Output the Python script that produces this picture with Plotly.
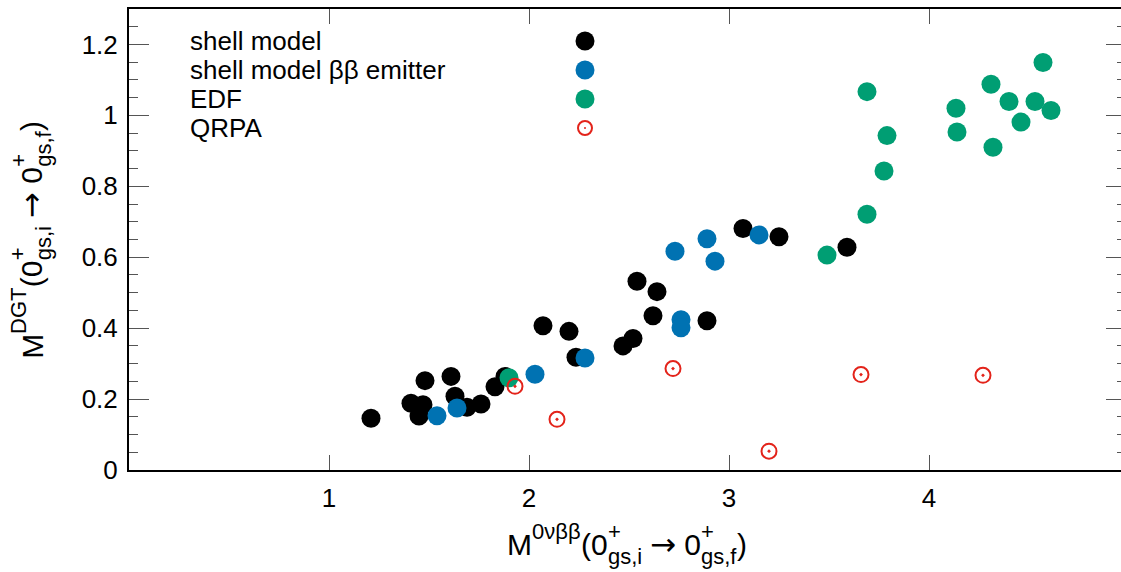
import plotly.graph_objects as go

# ---- data ----
shell_x = [1.21, 1.41, 1.47, 1.45, 1.48, 1.61, 1.63, 1.69, 1.76, 1.83, 1.88, 2.07, 2.20, 2.235,
           2.47, 2.52, 2.62, 2.54, 2.64, 2.89, 3.07, 3.25, 3.59]
shell_y = [0.146, 0.188, 0.184, 0.152, 0.252, 0.264, 0.208, 0.177, 0.186, 0.235, 0.264, 0.407, 0.391, 0.318,
           0.350, 0.371, 0.435, 0.532, 0.503, 0.421, 0.681, 0.658, 0.628]

bb_x = [1.54, 1.64, 2.03, 2.28, 2.76, 2.76, 2.73, 2.89, 2.93, 3.15]
bb_y = [0.153, 0.175, 0.270, 0.316, 0.424, 0.401, 0.617, 0.652, 0.589, 0.663]

edf_x = [1.90, 3.49, 3.69, 3.775, 3.79, 3.69, 4.135, 4.14, 4.31, 4.32, 4.40, 4.46, 4.53, 4.57, 4.61]
edf_y = [0.260, 0.606, 0.721, 0.843, 0.943, 1.067, 1.020, 0.953, 1.088, 0.910, 1.039, 0.981, 1.039, 1.149, 1.014]

qrpa_x = [1.93, 2.14, 2.72, 3.20, 3.66, 4.27]
qrpa_y = [0.236, 0.143, 0.286, 0.053, 0.269, 0.267]

x_ticks = [1, 2, 3, 4]
y_ticks = [0, 0.2, 0.4, 0.6, 0.8, 1.0, 1.2]
y_tick_text = ["0", "0.2", "0.4", "0.6", "0.8", "1", "1.2"]

names = ["shell model", "shell model \u03b2\u03b2 emitter", "EDF", "QRPA"]
colors = ["#000000", "#0072b2", "#009e73", "#e3231a"]

# axis titles as (kind, text) pieces: normal / sup / supsub (stacked) / arrow
x_title = [("n", "M"), ("sup", "0\u03bd\u03b2\u03b2"), ("n", "(0"), ("supsub", ("+", "gs,i")),
           ("n", " "), ("arrow", "\u2192"), ("n", " 0"), ("supsub", ("+", "gs,f")), ("n", ")")]
y_title = [("n", "M"), ("sup", "DGT"), ("n", "(0"), ("supsub", ("+", "gs,i")),
           ("n", " "), ("arrow", "\u2192"), ("n", " 0"), ("supsub", ("+", "gs,f")), ("n", ")")]

FONT = "Liberation Sans, Arial, Helvetica, sans-serif"
ARROW_FONT = "DejaVu Sans"
W, H = 1126, 572             # figure slightly wider than the page: right frame line lies off-screen
L, R, T, B = 129, 0, 9, 102
PW, PH = W - L - R, H - T - B

def px_x(p):                 # page pixel -> plot-area paper coordinate
    return (p - L) / PW

def px_y(p):
    return (T + PH - p) / PH

fig = go.Figure()
series = [(shell_x, shell_y), (bb_x, bb_y), (edf_x, edf_y)]
for (xs, ys), n, c in zip(series, names[:3], colors[:3]):
    fig.add_trace(go.Scatter(x=xs, y=ys, mode="markers", name=n,
                             marker=dict(size=19, color=c, line=dict(width=0)),
                             showlegend=False))
fig.add_trace(go.Scatter(x=qrpa_x, y=qrpa_y, mode="markers", name=names[3],
                         marker=dict(size=15, symbol="circle-open-dot", color=colors[3],
                                     line=dict(width=2, color=colors[3])),
                         showlegend=False))

# ---- key (gnuplot style: text left, symbol right) ----
key_rows_px = [41, 70, 99, 128]
KEY_FS = 26
for i, (n, c) in enumerate(zip(names, colors)):
    fig.add_annotation(x=px_x(190), y=px_y(key_rows_px[i]), xref="paper", yref="paper", text=n,
                       showarrow=False, xanchor="left", yanchor="middle", borderpad=0, borderwidth=0,
                       font=dict(size=KEY_FS, family=FONT, color="black"))
    xp, yp = px_x(585), px_y(key_rows_px[i])
    if i < 3:
        fig.add_shape(type="circle", xref="paper", yref="paper", xsizemode="pixel", ysizemode="pixel",
                      xanchor=xp, yanchor=yp, x0=-9.5, x1=9.5, y0=-9.5, y1=9.5,
                      fillcolor=c, line=dict(width=0))
    else:
        fig.add_shape(type="circle", xref="paper", yref="paper", xsizemode="pixel", ysizemode="pixel",
                      xanchor=xp, yanchor=yp, x0=-7, x1=7, y0=-7, y1=7,
                      fillcolor="rgba(0,0,0,0)", line=dict(width=2, color=c))
        fig.add_shape(type="circle", xref="paper", yref="paper", xsizemode="pixel", ysizemode="pixel",
                      xanchor=xp, yanchor=yp, x0=-1, x1=1, y0=-1, y1=1,
                      fillcolor=c, line=dict(width=0))

# ---- composed axis titles (stacked super/subscripts) ----
ADV = {'M': 833, 'D': 722, 'G': 778, 'T': 611, '0': 556, '(': 333, ')': 333, '+': 584,
       'g': 556, 's': 500, ',': 278, 'i': 222, 'f': 278, ' ': 278, '\u03bd': 500,
       '\u03b2': 575}
ARROW_ADV = 838

def tw(s, size):
    return sum(ADV.get(ch, 556) for ch in s) / 1000 * size

F, S, FA = 30, 22, 31
UP, DOWN = 16.0, 9.5
ASC, DESC = 0.905, 0.212

def layout_pieces(pieces):
    out = []  # (text, size, family, offset_along, baseline_shift)
    pos = 0.0
    for kind, t in pieces:
        if kind == "n":
            out.append((t, F, FONT, pos, 0.0)); pos += tw(t, F)
        elif kind == "arrow":
            out.append((t, FA, ARROW_FONT, pos, 0.0)); pos += ARROW_ADV / 1000 * FA
        elif kind == "sup":
            out.append((t, S, FONT, pos, UP)); pos += tw(t, S)
        else:
            sp, sb = t
            out.append((sp, S, FONT, pos, UP)); out.append((sb, S, FONT, pos, -DOWN))
            pos += max(tw(sp, S), tw(sb, S))
    return out, pos

def add_title_x(pieces, cx, baseline):
    items, total = layout_pieces(pieces)
    x0 = cx - total / 2
    for t, size, fam, off, shift in items:
        if not t.strip():
            continue
        b = baseline - shift
        cy = b - (ASC - DESC) / 2 * size
        fig.add_annotation(x=px_x(x0 + off), y=px_y(cy), xref="paper", yref="paper", text=t,
                           showarrow=False, xanchor="left", yanchor="middle", borderpad=0, borderwidth=0,
                           font=dict(size=size, family=fam, color="black"))

def add_title_y(pieces, cy, baseline):
    items, total = layout_pieces(pieces)
    y0 = cy + total / 2  # bottom start, reading upward
    for t, size, fam, off, shift in items:
        if not t.strip():
            continue
        b = baseline - shift
        cx = b - (ASC - DESC) / 2 * size
        fig.add_annotation(x=px_x(cx), y=px_y(y0 - off), xref="paper", yref="paper", text=t,
                           textangle=-90, showarrow=False, xanchor="center", yanchor="bottom",
                           borderpad=0, borderwidth=0,
                           font=dict(size=size, family=fam, color="black"))

add_title_x(x_title, cx=627, baseline=555)
add_title_y(y_title, cy=240, baseline=42)

tickcol = "#555555"
fig.update_xaxes(range=[0, PW / 200], tickvals=x_ticks, ticktext=[str(v) for v in x_ticks],
                 ticks="inside", ticklen=15, tickwidth=1, tickcolor=tickcol,
                 showline=True, linecolor="black", linewidth=2, mirror="ticks",
                 showgrid=False, zeroline=False, automargin=False,
                 tickfont=dict(size=26, family=FONT, color="black"),
                 ticklabelstandoff=4)
fig.update_yaxes(range=[0, 1.3], tickvals=y_ticks, ticktext=y_tick_text,
                 ticks="inside", ticklen=20, tickwidth=1, tickcolor=tickcol,
                 minor=dict(dtick=0.05, ticks="inside", ticklen=9, tickcolor=tickcol, tickwidth=1, showgrid=False),
                 showline=True, linecolor="black", linewidth=2, mirror="ticks",
                 showgrid=False, zeroline=False, automargin=False,
                 tickfont=dict(size=26, family=FONT, color="black"),
                 ticklabelstandoff=4)

fig.update_layout(width=W, height=H, margin=dict(l=L, r=R, t=T, b=B),
                  plot_bgcolor="white", paper_bgcolor="white", showlegend=False)

page_css = ("document.documentElement.style.margin='0';document.documentElement.style.padding='0';"
            "document.documentElement.style.overflow='hidden';"
            "document.body.style.margin='0';document.body.style.padding='0';"
            "document.body.style.overflow='hidden';")
fig.write_html("out.html", post_script=page_css,
               config={"responsive": False, "displayModeBar": False})
